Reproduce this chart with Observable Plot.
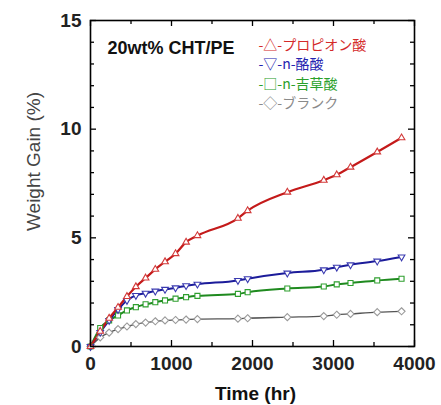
<!DOCTYPE html>
<html>
<head>
<meta charset="utf-8">
<script src="https://cdn.jsdelivr.net/npm/d3@7"></script>
<script src="https://cdn.jsdelivr.net/npm/@observablehq/plot@0.6"></script>
<style>
  html, body { margin: 0; padding: 0; background: #fff; }
  #chart svg { display: block; }
</style>
</head>
<body>
<div id="chart"></div>
<script>
// ---- data ----
const times = [0, 120, 230, 340, 450, 560, 680, 800, 920, 1050, 1180, 1320, 1820, 1940, 2430, 2880, 3040, 3210, 3540, 3840];
const propionic = [0, 0.7, 1.3, 1.8, 2.3, 2.75, 3.15, 3.55, 3.9, 4.27, 4.8, 5.1, 5.9, 6.25, 7.1, 7.65, 7.9, 8.25, 8.95, 9.6];
const butyric   = [0, 0.65, 1.2, 1.7, 2.12, 2.35, 2.45, 2.55, 2.63, 2.7, 2.8, 2.87, 3.04, 3.12, 3.38, 3.53, 3.65, 3.76, 3.93, 4.12];
const valeric   = [0, 0.85, 1.2, 1.43, 1.66, 1.81, 1.94, 2.04, 2.12, 2.2, 2.27, 2.33, 2.42, 2.5, 2.67, 2.76, 2.86, 2.92, 3.04, 3.12];
const blank     = [0, 0.42, 0.64, 0.8, 0.92, 1.03, 1.1, 1.16, 1.2, 1.22, 1.24, 1.26, 1.28, 1.3, 1.35, 1.4, 1.46, 1.5, 1.58, 1.62];

const seriesNames = ["プロピオン酸", "n-酪酸", "n-吉草酸", "ブランク"];
const seriesValues = [propionic, butyric, valeric, blank];
const legendLabels = ["-△-プロピオン酸", "-▽-n-酪酸", "-□-n-吉草酸", "-◇-ブランク"];
const title = "20wt% CHT/PE";

const xMajor = [0, 1000, 2000, 3000, 4000];
const xMinor = [500, 1500, 2500, 3500];
const yMajor = [0, 5, 10, 15];
const yMinor = [1, 2, 3, 4, 6, 7, 8, 9, 11, 12, 13, 14];

// styles
const lineColors = ["#c41a1a", "#1c1c9a", "#1f8a1f", "#555555"];
const markColors = ["#d23a3a", "#3a3ab0", "#2f9f2f", "#9a9a9a"];
const textColors = ["#d42a2a", "#2424b0", "#2aa02a", "#8a8a8a"];
const symbols = ["triangle2", "triangle2", "square2", "diamond2"];
const rotations = [0, 180, 0, 0];
const widths = [2.2, 2, 2, 1.3];

const W = 441, H = 405;
const mL = 90, mR = 27, mT = 20, mB = 59;
const innerW = W - mL - mR, innerH = H - mT - mB;

const rows = seriesNames.flatMap((name, i) =>
  times.map((t, j) => ({series: name, idx: i, t, v: seriesValues[i][j]})));

const marks = [];
// inward ticks on all sides
marks.push(Plot.tickX(xMajor, {x: d => d, stroke: "#000", strokeWidth: 1.3, insetTop: innerH - 6}));
marks.push(Plot.tickX(xMajor, {x: d => d, stroke: "#000", strokeWidth: 1.3, insetBottom: innerH - 6}));
marks.push(Plot.tickX(xMinor, {x: d => d, stroke: "#000", strokeWidth: 1.3, insetTop: innerH - 4}));
marks.push(Plot.tickX(xMinor, {x: d => d, stroke: "#000", strokeWidth: 1.3, insetBottom: innerH - 4}));
marks.push(Plot.tickY(yMajor, {y: d => d, stroke: "#000", strokeWidth: 1.3, insetRight: innerW - 6}));
marks.push(Plot.tickY(yMajor, {y: d => d, stroke: "#000", strokeWidth: 1.3, insetLeft: innerW - 6}));
marks.push(Plot.tickY(yMinor, {y: d => d, stroke: "#000", strokeWidth: 1.3, insetRight: innerW - 4}));
marks.push(Plot.tickY(yMinor, {y: d => d, stroke: "#000", strokeWidth: 1.3, insetLeft: innerW - 4}));

// series lines (draw gray first so colored lines overlay)
[3, 2, 1, 0].forEach(i => {
  const data = rows.filter(d => d.idx === i);
  marks.push(Plot.line(data, {x: "t", y: "v", stroke: lineColors[i], strokeWidth: widths[i], curve: "monotone-x"}));
});
[3, 2, 1, 0].forEach(i => {
  const data = rows.filter(d => d.idx === i);
  marks.push(Plot.dot(data, {x: "t", y: "v", symbol: () => symbols[i], r: 3.2, rotate: rotations[i],
    stroke: markColors[i], strokeWidth: 1.1, fill: "white"}));
});

// title and legend inside frame
marks.push(Plot.text([title], {text: d => d, frameAnchor: "top-left", dx: 17, dy: 28,
  fontSize: 18, fontWeight: "bold", fill: "#111", textAnchor: "start", lineAnchor: "middle",
  fontFamily: "Liberation Sans, Arial, sans-serif", letterSpacing: 0.4}));
legendLabels.forEach((lab, i) => {
  marks.push(Plot.text([lab], {text: d => d, frameAnchor: "top-left", dx: 168, dy: 25 + i * 19.5,
    fontSize: 14, fill: textColors[i], textAnchor: "start", lineAnchor: "middle",
    fontFamily: "Noto Sans CJK JP, sans-serif", letterSpacing: 2.4}));
});

// axis labels
marks.push(Plot.axisX(xMajor, {tickSize: 0, tickPadding: 10, fontSize: 19, fontWeight: "bold",
  tickFormat: d3.format("d"),
  fontFamily: "Liberation Sans, Arial, sans-serif", label: null, fill: "#222"}));
marks.push(Plot.axisY(yMajor, {tickSize: 0, tickPadding: 9, fontSize: 19, fontWeight: "bold",
  tickFormat: d3.format("d"),
  fontFamily: "Liberation Sans, Arial, sans-serif", label: null, fill: "#222"}));
marks.push(Plot.text(["Time (hr)"], {text: d => d, frameAnchor: "bottom", dx: 3, dy: 47,
  fontSize: 19, fontWeight: "bold", fill: "#111", textAnchor: "middle", lineAnchor: "middle",
  fontFamily: "Liberation Sans, Arial, sans-serif"}));
marks.push(Plot.text(["Weight Gain (%)"], {text: d => d, frameAnchor: "left", dx: -57, dy: -22,
  rotate: -90, fontSize: 19, fill: "#444", textAnchor: "middle", lineAnchor: "middle",
  fontFamily: "Liberation Sans, Arial, sans-serif"}));

marks.push(Plot.frame({stroke: "#000", strokeWidth: 1.6}));

const chart = Plot.plot({
  width: W, height: H,
  marginLeft: mL, marginRight: mR, marginTop: mT, marginBottom: mB,
  x: {domain: [0, 4000]},
  y: {domain: [0, 15]},
  style: {background: "white", overflow: "visible"},
  marks
});
document.getElementById("chart").appendChild(chart);
</script>
</body>
</html>
